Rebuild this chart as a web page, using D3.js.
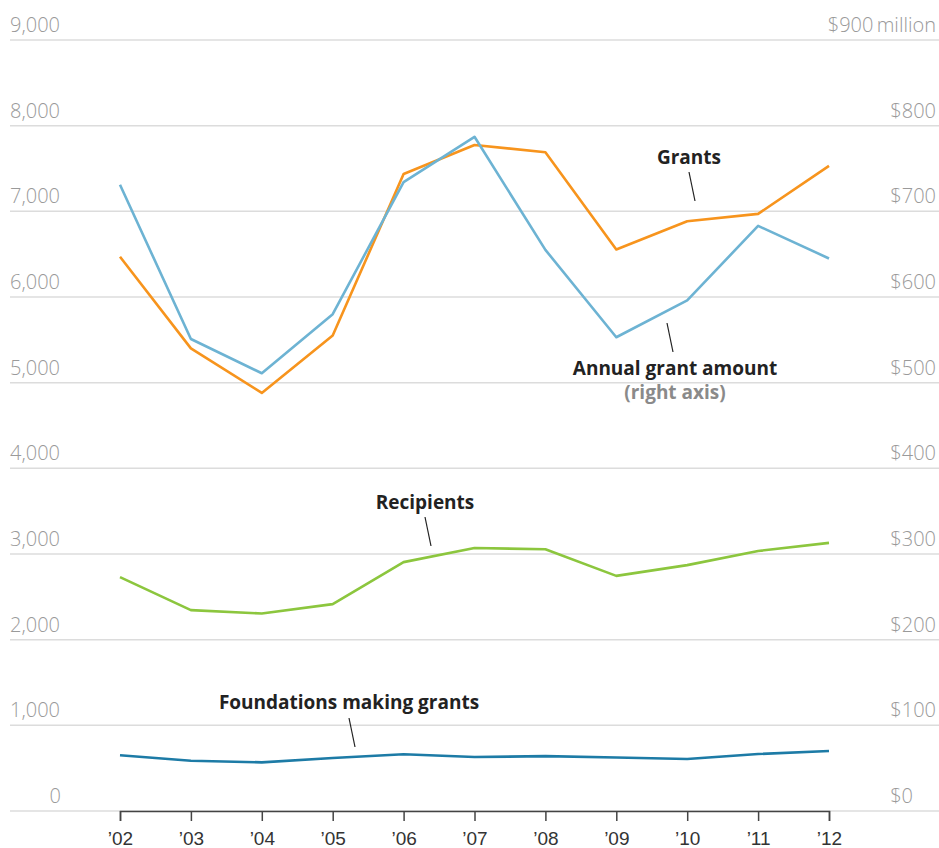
<!DOCTYPE html>
<html>
<head>
<meta charset="utf-8">
<script src="https://cdn.jsdelivr.net/npm/d3@7"></script>
<style>
  body { margin: 0; background: #fff; }
  svg { display: block; font-family: "Open Sans", Lato, sans-serif; }
  .grid line { stroke: #dcdcdc; stroke-width: 1.5; }
  .ylab { fill: #9a9a9a; font-size: 20px; font-weight: 300; }
  .xaxis text { fill: #333; font-size: 19px; font-weight: 300; }
  .lbl { fill: #222; font-size: 19px; font-weight: 700; }
  .leader { stroke: #222; stroke-width: 1.2; }
</style>
</head>
<body>
<svg id="chart" width="939" height="848"></svg>
<script>
// chart data
var years = ["’02", "’03", "’04", "’05", "’06", "’07", "’08", "’09", "’10", "’11", "’12"];
var grants = [6470, 5400, 4880, 5550, 7435, 7775, 7690, 6555, 6885, 6970, 7530];
var amount = [731, 551, 511, 580, 734, 787, 655, 553, 596, 683, 645]; // $ million, right axis
var recipients = [2730, 2345, 2305, 2415, 2905, 3070, 3055, 2745, 2870, 3035, 3130];
var foundations = [650, 587, 568, 619, 662, 630, 640, 625, 607, 665, 700];
var leftTicks = [0, 1000, 2000, 3000, 4000, 5000, 6000, 7000, 8000, 9000];
var rightTicks = [0, 100, 200, 300, 400, 500, 600, 700, 800, 900];

var svg = d3.select("#chart");

var x = d3.scalePoint().domain(years).range([120, 829]);
var y = d3.scaleLinear().domain([0, 9000]).range([811, 40]);
var yR = d3.scaleLinear().domain([0, 900]).range([811, 40]);

// gridlines
svg.append("g").attr("class", "grid")
  .selectAll("line").data(leftTicks).join("line")
  .attr("x1", 10).attr("x2", 939)
  .attr("y1", function (d) { return y(d); })
  .attr("y2", function (d) { return y(d); });

// left labels
svg.append("g").selectAll("text").data(leftTicks).join("text")
  .attr("class", "ylab")
  .attr("x", 10)
  .attr("y", function (d) { return y(d) - 8; })
  .attr("text-anchor", function (d) { return d === 0 ? "end" : "start"; })
  .attr("dx", function (d) { return d === 0 ? 51 : 0; })
  .text(function (d) { return d3.format(",")(d); });

// right labels
svg.append("g").selectAll("text").data(rightTicks).join("text")
  .attr("class", "ylab")
  .attr("x", function (d) { return d === 0 ? 913 : 936; })
  .attr("y", function (d) { return yR(d) - 8; })
  .attr("text-anchor", "end")
  .text(function (d) { return d === 900 ? "$900\u2009million" : "$" + d; });

// x axis
var xAxis = svg.append("g").attr("class", "xaxis")
  .attr("transform", "translate(0," + 811 + ")")
  .call(d3.axisBottom(x).tickSize(10).tickPadding(11));
xAxis.select(".domain").attr("stroke", "#444").attr("stroke-width", 1.5);
xAxis.selectAll(".tick line").attr("stroke", "#444").attr("stroke-width", 1.5);
xAxis.selectAll("text").attr("font-family", null).attr("font-size", null);

var series = [
  { values: grants, scale: y, color: "#f7941d" },
  { values: amount, scale: yR, color: "#6db3d3" },
  { values: recipients, scale: y, color: "#8cc63e" },
  { values: foundations, scale: y, color: "#1d7ba6" }
];

series.forEach(function (s) {
  var line = d3.line()
    .x(function (d, i) { return x(years[i]); })
    .y(function (d) { return s.scale(d); });
  svg.append("path")
    .datum(s.values)
    .attr("fill", "none")
    .attr("stroke", s.color)
    .attr("stroke-width", 2.6)
    .attr("stroke-linejoin", "round")
    .attr("d", line);
});

// annotations
var notes = [
  { text: "Grants", x: 689, y: 164, l: [689, 172, 695, 201] },
  { text: "Annual grant amount", x: 675, y: 375, l: [667, 323, 673, 352] },
  { text: "Recipients", x: 425, y: 509, l: [425, 517, 431, 546] },
  { text: "Foundations making grants", x: 349, y: 709, l: [349, 718, 355, 747] }
];
notes.forEach(function (n) {
  svg.append("text").attr("class", "lbl")
    .attr("x", n.x).attr("y", n.y)
    .attr("text-anchor", "middle")
    .text(n.text);
  svg.append("line").attr("class", "leader")
    .attr("x1", n.l[0]).attr("y1", n.l[1])
    .attr("x2", n.l[2]).attr("y2", n.l[3]);
});
svg.append("text").attr("class", "lbl")
  .attr("x", 675).attr("y", 399)
  .attr("text-anchor", "middle")
  .style("fill", "#8a8a8a")
  .text("(right axis)");
</script>
</body>
</html>
